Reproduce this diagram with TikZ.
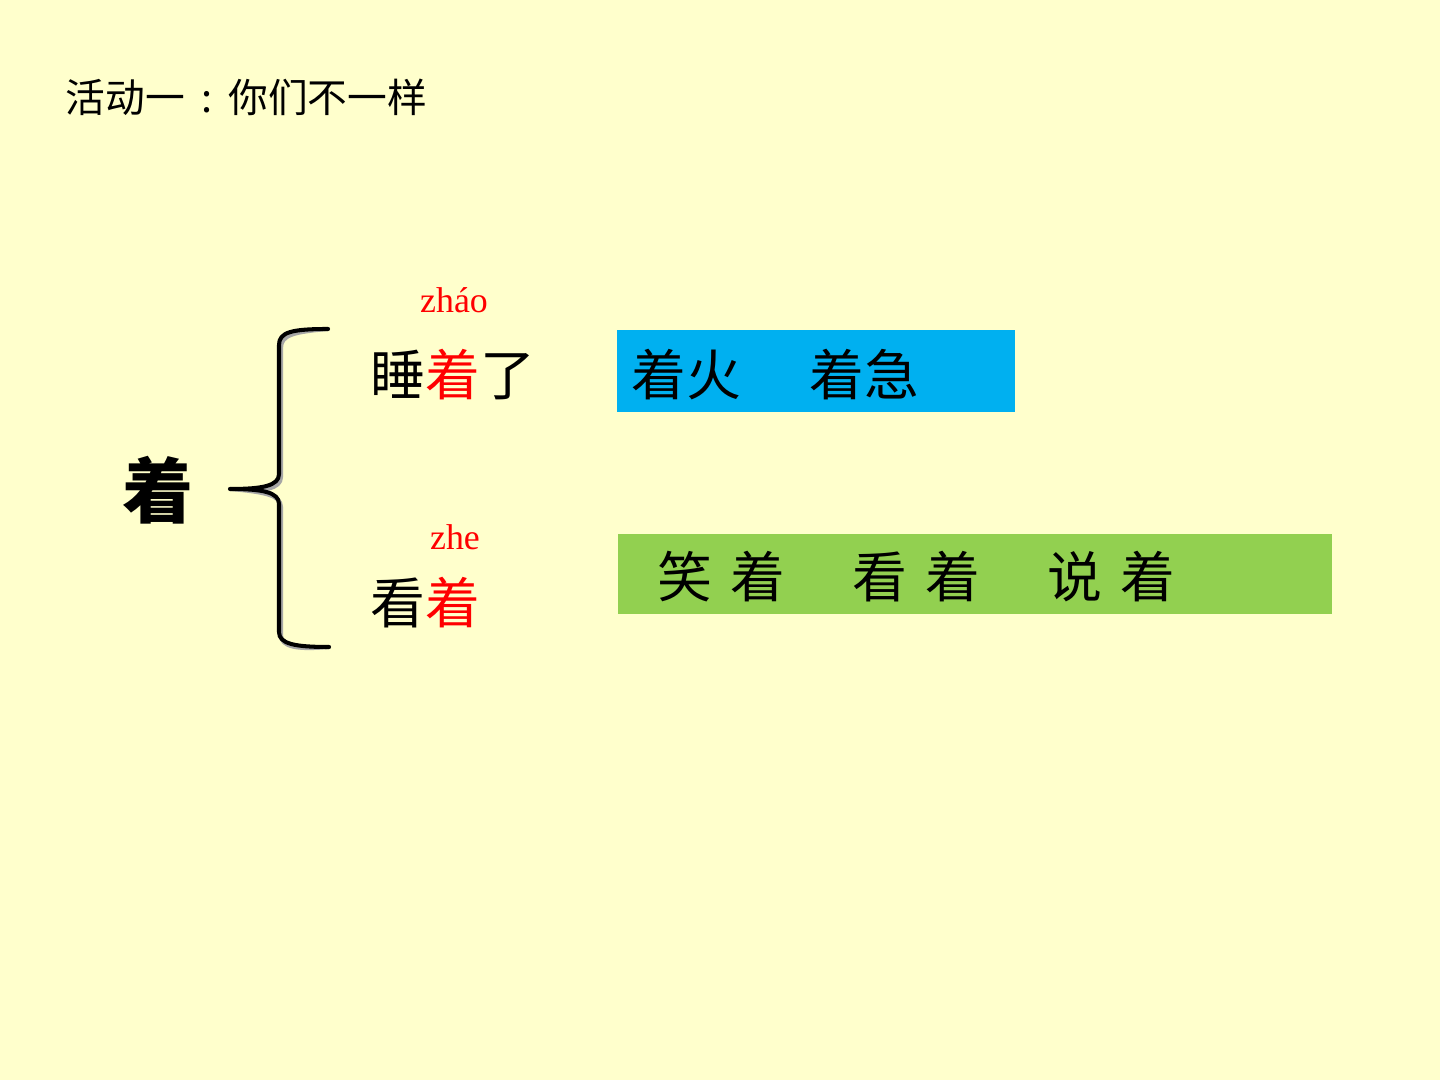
\documentclass[tikz,border=0pt]{standalone}
\usepackage{fontspec}
\usepackage{tikz}
\usetikzlibrary{positioning}
\setmainfont{Liberation Serif}
\newfontfamily\cjk{Noto Sans CJK SC}
\definecolor{bgpaper}{RGB}{255,255,204}
\definecolor{boxblue}{HTML}{00B0F0}
\definecolor{boxgreen}{HTML}{92D050}
\definecolor{hilite}{HTML}{FF0000}
\tikzset{
  hanzi/.style={inner sep=0pt, anchor=west, font=\cjk\fontsize{15.6}{15.6}\selectfont},
  pinyin/.style={inner sep=0pt, text=hilite, font=\fontsize{10.2}{10.2}\selectfont},
  bracepath/.style={line width=1.15pt, line cap=round, line join=round}
}

\begin{document}
\begin{tikzpicture}[x=0.01cm, y=-0.01cm]
  % Page
  \fill[bgpaper] (0,0) rectangle (1440,1080);
  \useasboundingbox (0,0) rectangle (1440,1080);

  % Title
  \node[inner sep=0pt, anchor=west, font=\cjk\fontsize{11.3}{11.3}\selectfont] (title) at (65,97)
    {活动一\makebox[12.4pt][c]{:}你们不一样};

  % Main character
  \node[inner sep=0pt, font=\cjk\bfseries\fontsize{20.2}{20.2}\selectfont] (root) at (158,490) {着};

  % Brace (shadow first)
  \coordinate (btop) at (328,329);
  \coordinate (btip) at (230,489);
  \coordinate (bbot) at (329,647);
  \begin{scope}[shift={(2,3)}]
    \draw[bracepath, gray!70]
      (btop) .. controls (292,329) and (279,332) .. (279,345) -- (279,474)
      .. controls (279,486) and (262,489) .. (btip)
      .. controls (262,489) and (279,492) .. (279,504) -- (279,632)
      .. controls (279,644) and (295,647) .. (bbot);
  \end{scope}
  \draw[bracepath, black]
    (btop) .. controls (292,329) and (279,332) .. (279,345) -- (279,474)
    .. controls (279,486) and (262,489) .. (btip)
    .. controls (262,489) and (279,492) .. (279,504) -- (279,632)
    .. controls (279,644) and (295,647) .. (bbot);

  % Upper reading
  \node[pinyin] (zhao) at (454,300) {zháo};
  \node[hanzi] (word1) at (370,375) {睡\textcolor{hilite}{着}了};

  % Lower reading
  \node[pinyin] (zhe) at (455,537) {zhe};
  \node[hanzi] (word2) at (370,603) {看\textcolor{hilite}{着}};

  % Example boxes
  \fill[boxblue] (617,330) rectangle (1015,412);
  \node[hanzi] (ex1) at (631,375) {着火\hspace{19.3pt}着急};
  \fill[boxgreen] (618,534) rectangle (1332,614);
  \node[hanzi] (ex2) at (657,577) {笑\hspace{5.2pt}着\hspace{19pt}看\hspace{5.2pt}着\hspace{19pt}说\hspace{5.2pt}着};
\end{tikzpicture}
\end{document}
